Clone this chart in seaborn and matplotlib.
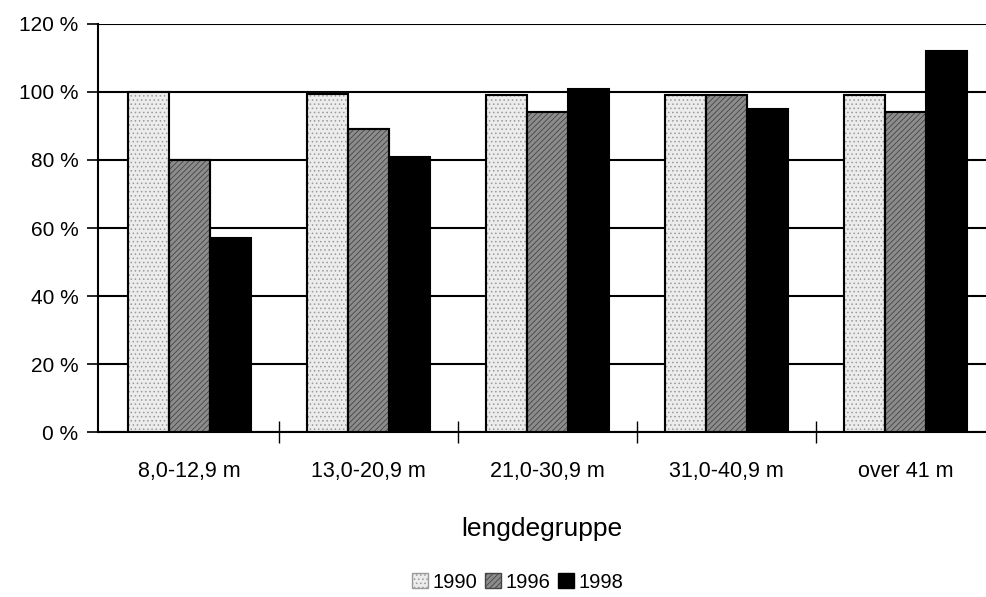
import matplotlib
matplotlib.use("Agg")
import matplotlib.pyplot as plt
import seaborn as sns
import pandas as pd
from matplotlib.patches import Patch

categories = ["8,0-12,9 m", "13,0-20,9 m", "21,0-30,9 m", "31,0-40,9 m", "over 41 m"]
years = ["1990", "1996", "1998"]
v1990 = [100, 99.5, 99, 99, 99]
v1996 = [80, 89, 94, 99, 94]
v1998 = [57, 81, 101, 95, 112]

rows = []
for y, vals in zip(years, [v1990, v1996, v1998]):
    for c, v in zip(categories, vals):
        rows.append({"cat": c, "year": y, "val": v})
df = pd.DataFrame(rows)

sns.set_theme(style="white")
plt.rcParams['font.family'] = ['Liberation Sans', 'DejaVu Sans']
plt.rcParams['hatch.linewidth'] = 0.6
plt.rcParams['text.color'] = 'black'
plt.rcParams['axes.labelcolor'] = 'black'
plt.rcParams['xtick.color'] = 'black'
plt.rcParams['ytick.color'] = 'black'

fig = plt.figure(figsize=(9.86, 5.97), dpi=100)
ax = fig.add_axes([0.0994, 0.276, 0.9006, 0.684])

face = {"1990": "#ececec", "1996": "#8c8c8c", "1998": "#000000"}
hatch = {"1990": "....", "1996": "//////", "1998": None}
hcol = {"1990": "#9a9a9a", "1996": "#444444", "1998": "#000000"}

sns.barplot(data=df, x="cat", y="val", hue="year", order=categories, hue_order=years,
            palette=face, width=0.69, gap=0, ax=ax, legend=False, zorder=3,
            edgecolor="black", linewidth=1.5)

n = len(categories)
for i, p in enumerate(ax.patches):
    yr = years[i // n]
    if hatch[yr]:
        p.set_hatch(hatch[yr])
        p.set_edgecolor(hcol[yr])
        x0, y0 = p.get_x(), p.get_y()
        ax.add_patch(plt.Rectangle((x0, y0), p.get_width(), p.get_height(),
                                   fill=False, edgecolor="black", linewidth=1.5, zorder=4))

ax.set_ylim(0, 120)
ax.set_xlim(-0.51, 4.45)
ax.set_yticks(range(0, 121, 20))
ax.set_yticklabels([f"{t} %" for t in range(0, 121, 20)], fontsize=15, color="black")
ax.yaxis.grid(True, color="black", linewidth=1.5, zorder=1)
ax.xaxis.grid(False)
ax.tick_params(axis="y", direction="out", length=8, width=1.2, color="black", pad=6, left=True)
ax.set_xticks(range(n))
ax.set_xticklabels(categories, fontsize=15.5, color="black")
ax.tick_params(axis="x", which="major", length=0, pad=21)
ax.set_xticks([0.5, 1.5, 2.5, 3.5], minor=True)
ax.tick_params(axis="x", which="minor", direction="inout", length=16, width=1.0, color="black", bottom=True)

for s in ["top", "right"]:
    ax.spines[s].set_visible(False)
for s in ["left", "bottom"]:
    ax.spines[s].set_color("black")
    ax.spines[s].set_linewidth(1.5)

ax.set_xlabel("lengdegruppe", fontsize=19, labelpad=25, color="black")
ax.set_ylabel("")

handles = [Patch(facecolor=face[y], edgecolor=hcol[y] if hatch[y] else "black",
                 hatch=hatch[y], linewidth=1.0, label=y) for y in years]
fig.legend(handles=handles, loc="center", bbox_to_anchor=(0.525, 0.025), ncol=3,
           frameon=False, fontsize=14.5, handlelength=0.8, handleheight=0.8,
           handletextpad=0.2, columnspacing=0.4, labelcolor="black")

fig.savefig("out.png", dpi=100)
